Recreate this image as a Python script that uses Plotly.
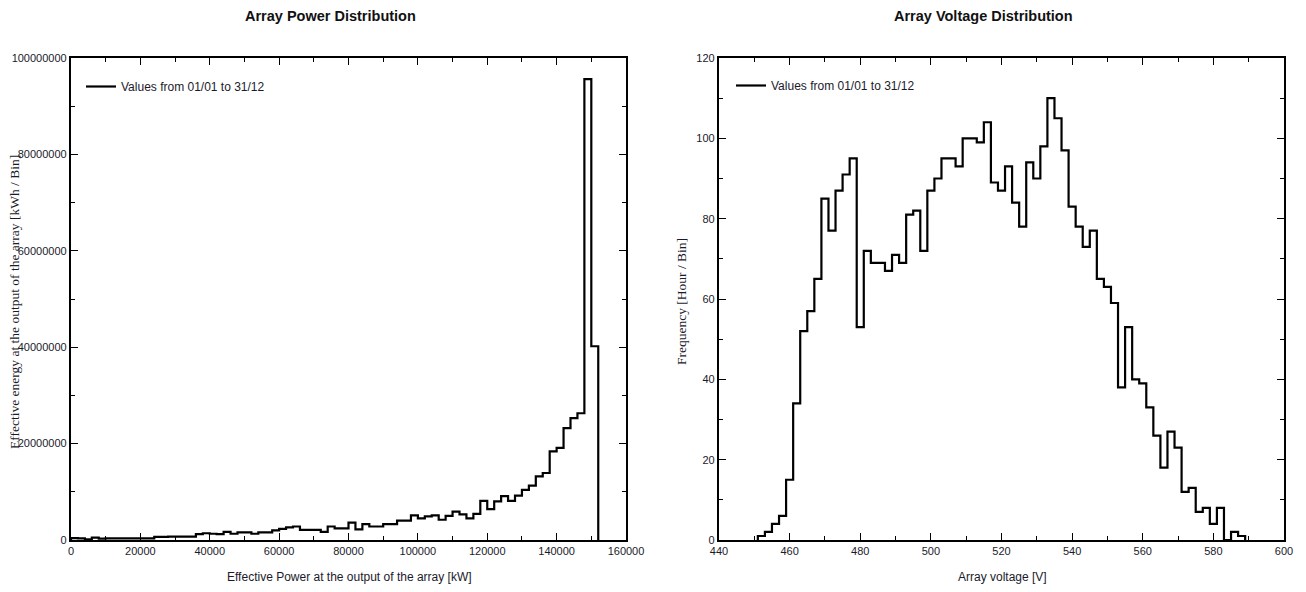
import plotly.graph_objects as go

# ---------------- data ----------------
# Array power distribution: bins of 2000 kW starting at 0 kW (left edges)
power_bin_start_kw = list(range(0, 152000, 2000))
power_bin_width_kw = 2000
power_energy_kwh = [
    400000, 350000, 150000, 500000, 300000, 350000, 350000, 350000, 350000, 350000,
    350000, 350000, 650000, 650000, 700000, 700000, 700000, 700000, 1200000, 1400000,
    1300000, 1200000, 1700000, 1300000, 1600000, 1600000, 1300000, 1600000, 1600000, 2000000,
    2300000, 2600000, 2800000, 2100000, 2100000, 2100000, 1700000, 2800000, 2400000, 2400000,
    3600000, 2200000, 3300000, 2800000, 2800000, 3300000, 3300000, 4000000, 4000000, 5100000,
    4500000, 4900000, 5100000, 4200000, 5000000, 5900000, 5300000, 4500000, 5400000, 8100000,
    6400000, 8000000, 9100000, 8100000, 9200000, 10400000, 11300000, 13200000, 13900000, 18400000,
    19100000, 23200000, 25300000, 26300000, 95600000, 40200000,
]

# Array voltage distribution: bins of 2 V, left edges from 451 V
voltage_bin_start_v = list(range(451, 589, 2))
voltage_bin_width_v = 2
voltage_hours = [
    1, 2, 4, 6, 15, 34, 52, 57, 65, 85,
    77, 87, 91, 95, 53, 72, 69, 69, 67, 71,
    69, 81, 82, 72, 87, 90, 95, 95, 93, 100,
    100, 99, 104, 89, 87, 93, 84, 78, 94, 90,
    98, 110, 105, 97, 83, 78, 73, 77, 65, 63,
    59, 38, 53, 40, 39, 33, 26, 18, 27, 23,
    12, 13, 7, 8, 4, 8, 0, 2, 1,
]

legend_text = "Values from 01/01 to 31/12"


def step_outline(starts, width, values):
    xs = [starts[0]] + list(starts) + [starts[-1] + width]
    ys = [0] + list(values) + [0]
    return xs, ys


px_, py_ = step_outline(power_bin_start_kw, power_bin_width_kw, power_energy_kwh)
vx_, vy_ = step_outline(voltage_bin_start_v, voltage_bin_width_v, voltage_hours)

SANS = "Liberation Sans, Arial, sans-serif"
SERIF = "Liberation Serif, Times New Roman, DejaVu Serif, serif"
TXT = "#1a1a2a"

fig = go.Figure()
fig.add_trace(go.Scatter(x=px_, y=py_, mode="lines", line=dict(color="black", width=2.2, shape="hv"),
                         name=legend_text, legend="legend", showlegend=True, xaxis="x", yaxis="y"))
fig.add_trace(go.Scatter(x=vx_, y=vy_, mode="lines", line=dict(color="black", width=2.2, shape="hv"),
                         name=legend_text, legend="legend2", showlegend=True, xaxis="x2", yaxis="y2"))

L, R, T, B = 71, 22, 58, 52
W, H = 1306, 592
pw = W - L - R
ph = H - T - B


def fx(pixel):
    return (pixel - L) / pw


def fy(pixel):
    return 1 - (pixel - T) / ph


axis_common = dict(
    showline=True, linecolor="black", linewidth=2.2, mirror="allticks",
    ticks="inside", ticklen=7, tickwidth=1.2, tickcolor="black",
    showgrid=False, zeroline=False, automargin=False,
    tickfont=dict(family=SANS, size=11, color=TXT),
)
minor_common = dict(ticks="inside", ticklen=4, tickcolor="black", tickwidth=1.2)

fig.update_layout(
    width=W, height=H,
    margin=dict(l=L, r=R, t=T, b=B),
    paper_bgcolor="white", plot_bgcolor="white",
    showlegend=True,
    xaxis=dict(domain=[0, fx(626)], range=[0, 160000], dtick=20000, tickformat="d",
               minor=dict(dtick=10000, **minor_common), anchor="y", **axis_common),
    yaxis=dict(domain=[0, 1], range=[0, 100000000], dtick=20000000, tickformat="d",
               minor=dict(dtick=10000000, **minor_common), anchor="x", **axis_common),
    xaxis2=dict(domain=[fx(719), 1], range=[440, 600], dtick=20,
                minor=dict(dtick=10, **minor_common), anchor="y2", **axis_common),
    yaxis2=dict(domain=[0, 1], range=[0, 120], dtick=20,
                minor=dict(dtick=10, **minor_common), anchor="x2", **axis_common),
    legend=dict(x=fx(81), y=fy(72), xanchor="left", yanchor="top", bgcolor="rgba(0,0,0,0)",
                font=dict(family=SANS, size=12, color=TXT)),
    legend2=dict(x=fx(731), y=fy(71), xanchor="left", yanchor="top", bgcolor="rgba(0,0,0,0)",
                 font=dict(family=SANS, size=12, color=TXT)),
    annotations=[
        dict(text="<b>Array Power Distribution</b>", x=fx(330), y=fy(16), xref="paper", yref="paper",
             xanchor="center", yanchor="middle", showarrow=False,
             font=dict(family=SANS, size=14.5, color="#111")),
        dict(text="<b>Array Voltage Distribution</b>", x=fx(983), y=fy(16), xref="paper", yref="paper",
             xanchor="center", yanchor="middle", showarrow=False,
             font=dict(family=SANS, size=14.5, color="#111")),
        dict(text="Effective Power at the output of the array [kW]", x=fx(349), y=fy(577),
             xref="paper", yref="paper", xanchor="center", yanchor="middle", showarrow=False,
             font=dict(family=SANS, size=12, color=TXT)),
        dict(text="Array voltage [V]", x=fx(1003), y=fy(577),
             xref="paper", yref="paper", xanchor="center", yanchor="middle", showarrow=False,
             font=dict(family=SANS, size=12, color=TXT)),
        dict(text="Effective energy at the output of the array [kWh / Bin]", x=fx(14), y=fy(302),
             xref="paper", yref="paper", xanchor="center", yanchor="middle", showarrow=False,
             textangle=-90, font=dict(family=SERIF, size=13.5, color=TXT)),
        dict(text="Frequency [Hour / Bin]", x=fx(681), y=fy(302),
             xref="paper", yref="paper", xanchor="center", yanchor="middle", showarrow=False,
             textangle=-90, font=dict(family=SERIF, size=13.5, color=TXT)),
    ],
)

fig.write_html("out.html")
